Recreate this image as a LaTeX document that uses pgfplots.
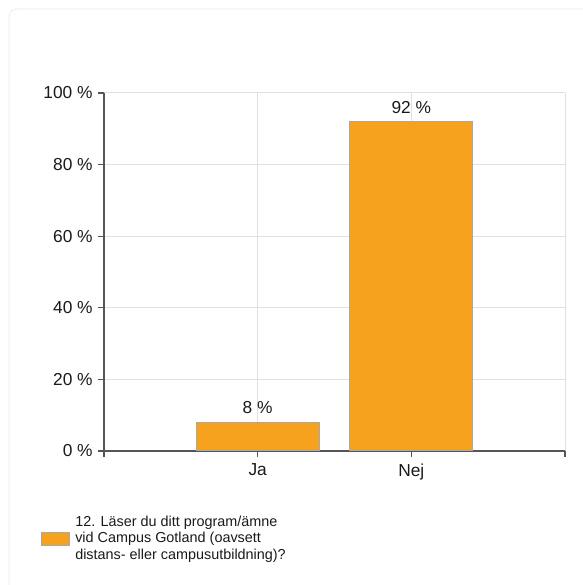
\documentclass[border=0pt]{standalone}
\usepackage{pgfplots}
\pgfplotsset{compat=1.18}
\usepackage{fontspec}
\setmainfont{Liberation Sans}
\definecolor{barorange}{HTML}{F7A21E}
\definecolor{bargray}{HTML}{A8A8A8}
\definecolor{gridgray}{HTML}{E0E0E0}
\definecolor{axisgray}{HTML}{555555}
\definecolor{txt}{HTML}{1A1A1A}
\definecolor{cardgray}{HTML}{EFEFEF}
\begin{document}
\begin{tikzpicture}[x=0.75pt,y=0.75pt]
\path[use as bounding box] (0,0) rectangle (582,585);
\draw[cardgray, line width=0.75pt, rounded corners=6pt] (9,-40) -- (9,576) -- (640,576);
\begin{axis}[
  at={(78pt,100.5pt)}, anchor=south west,
  scale only axis, width=345.75pt, height=268.5pt,
  xmin=0, xmax=3, ymin=0, ymax=100,
  axis x line*=bottom, axis y line*=left,
  axis line style={axisgray, line width=0.9pt, -},
  xtick={0,1,2,3}, xticklabels={,Ja,Nej,},
  ytick={0,20,...,100},
  yticklabel={\pgfmathprintnumber{\tick}~\%},
  /pgf/number format/assume math mode=true,
  tick align=outside,
  major tick length=4.5pt,
  tick style={axisgray, line width=0.9pt},
  grid=major,
  major grid style={gridgray, line width=0.75pt},
  ticklabel style={font=\fontsize{13}{15}\selectfont, text=txt},
  yticklabel style={xshift=-0.5pt},
  xticklabel style={yshift=-1.5pt},
  ybar, bar width=0.8,
  nodes near coords={\pgfmathprintnumber{\pgfplotspointmeta}~\%},
  nodes near coords style={font=\fontsize{13}{15}\selectfont, text=txt, yshift=2.5pt, /pgf/number format/assume math mode=true},
  clip=false,
]
\addplot[fill=barorange, draw=bargray, line width=0.75pt] coordinates {(1,8) (2,92)};
\end{axis}
\filldraw[fill=barorange, draw=bargray, line width=0.75pt] (41,585-533) rectangle (69,585-546);
\node[anchor=north west, inner sep=0pt, align=left, text=txt,
  font=\fontsize{10.8}{12.2}\selectfont] at (75,585-516)
  {12. Läser du ditt program/ämne\\vid Campus Gotland (oavsett\\distans- eller campusutbildning)?};
\end{tikzpicture}
\end{document}
